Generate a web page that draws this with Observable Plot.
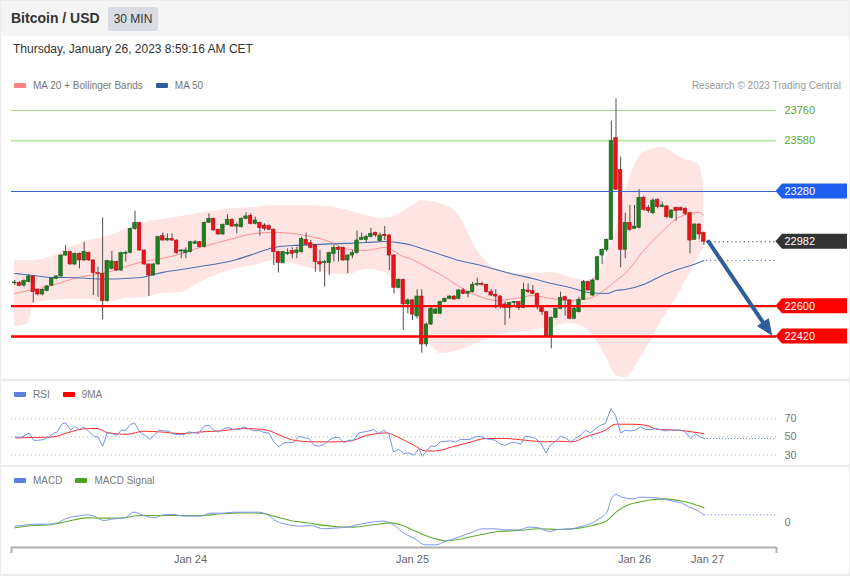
<!DOCTYPE html>
<html><head><meta charset="utf-8">
<script src="https://cdn.jsdelivr.net/npm/d3@7"></script>
<script src="https://cdn.jsdelivr.net/npm/@observablehq/plot@0.6"></script>
<style>
html,body{margin:0;padding:0;background:#fff;}
#root{position:relative;width:850px;height:576px;background:#ebebeb;overflow:hidden;font-family:"Liberation Sans",Arial,Helvetica,sans-serif;}
.panel{position:absolute;left:1px;width:848px;background:#fff;}
.abs{position:absolute;white-space:nowrap;}
.plot{position:absolute;left:0;}
.leg{position:absolute;font-size:10px;color:#777;white-space:nowrap;line-height:12px;}
.sw{display:inline-block;width:12px;height:5px;border-radius:1px;margin-right:7px;position:relative;top:-1px;}
.gap{display:inline-block;width:13px;}
</style></head>
<body><div id="root">
<div class="panel" style="top:1px;height:35px;background:#f5f5f5"></div>
<div class="abs" style="left:11px;top:10px;font-size:14px;font-weight:bold;color:#333">Bitcoin / USD</div>
<div class="abs" style="left:108px;top:7px;width:50px;height:24px;background:#d9dde3;border-radius:2px;font-size:12px;color:#333;line-height:24px;text-align:center">30 MIN</div>
<div class="panel" style="top:36px;height:343px"></div>
<div class="panel" style="top:381px;height:84px"></div>
<div class="panel" style="top:467px;height:107px"></div>
<div class="abs" style="left:13px;top:42px;font-size:12px;color:#333">Thursday, January 26, 2023 8:59:16 AM CET</div>
<div class="leg" style="left:14px;top:80px"><span class="sw" style="background:#ff8080"></span>MA 20 + Bollinger Bands<span class="gap"></span><span class="sw" style="background:#2f5d9f"></span>MA 50</div>
<div class="leg" style="right:9px;top:80px;color:#999">Research © 2023 Trading Central</div>
<div class="leg" style="left:14px;top:389px"><span class="sw" style="background:#5b7fe0"></span>RSI<span class="gap"></span><span class="sw" style="background:#ff0000"></span>9MA</div>
<div class="leg" style="left:14px;top:475px"><span class="sw" style="background:#5b7fe0"></span>MACD<span class="gap"></span><span class="sw" style="background:#4ca41b"></span>MACD Signal</div>
<div id="pMain" class="plot" style="top:36px"></div>
<div id="pRsi" class="plot" style="top:381px"></div>
<div id="pMacd" class="plot" style="top:467px"></div>
</div>
<script>
// ---------- DATA (30-min candles, index 0 = Jan 23 05:00 CET) ----------
const opens = [22735,22738,22722,22742,22776,22697,22669,22689,22722,22762,
22776,22900,22920,22847,22910,22871,22914,22871,22796,22792,
22630,22821,22861,22811,22910,22916,23058,23092,22930,22847,
22782,22847,23015,22989,22999,22989,22924,22914,22920,22970,
22979,22950,23094,23118,23053,23025,23082,23112,23072,23068,
23118,23136,23088,23094,23078,23074,23053,22920,22855,22910,
22926,22914,22920,22993,22973,22960,22861,22855,22855,22910,
22946,22946,22871,22900,22914,22993,22993,23009,23033,22985,
23023,23019,22900,22709,22756,22610,22634,22539,22657,22373,
22491,22555,22555,22624,22643,22657,22643,22693,22673,22683,
22726,22732,22726,22683,22667,22657,22610,22590,22618,22624,
22590,22693,22689,22673,22594,22564,22420,22531,22584,22653,
22634,22525,22564,22638,22742,22663,22756,22900,22934,22993,
23596,23408,22934,23092,23058,23064,23242,23183,23151,23230,
23187,23191,23124,23183,23181,23177,23151,22993,23084,23033];
const highs = [22752,22745,22756,22788,22780,22700,22702,22722,22770,22780,
22905,22960,22925,22915,22915,22979,22920,22875,22831,23124,
22872,22924,22866,22920,22926,23063,23163,23097,22932,22850,
22852,23014,23033,23029,23029,22993,22935,22946,22984,22989,
22984,23099,23147,23122,23056,23087,23143,23117,23094,23124,
23153,23147,23128,23099,23088,23082,23058,22925,22925,22940,
22946,22950,23009,23033,22989,22965,22930,22871,22920,22960,
22954,22950,22905,22930,23045,23033,23019,23062,23039,23033,
23072,23023,22905,22762,22760,22643,22638,22697,22697,22499,
22594,22585,22629,22648,22662,22662,22698,22703,22688,22742,
22766,22742,22730,22697,22697,22662,22624,22622,22628,22628,
22736,22732,22722,22678,22598,22568,22536,22589,22683,22658,
22639,22594,22653,22752,22747,22762,22895,22939,22998,23697,
23829,23483,23151,23197,23197,23290,23250,23197,23236,23236,
23217,23197,23171,23187,23187,23183,23157,23088,23088,23039];
const lows = [22722,22715,22713,22738,22618,22660,22662,22685,22718,22758,
22770,22895,22842,22840,22821,22865,22865,22663,22653,22519,
22625,22815,22805,22805,22861,22910,23050,22925,22842,22657,
22777,22842,22985,22985,22984,22908,22881,22881,22915,22965,
22945,22945,23090,23044,23020,23020,23078,23068,23029,23063,
23112,23082,23082,23015,23045,23048,22841,22796,22850,22900,
22881,22881,22915,22960,22940,22801,22801,22713,22782,22861,
22861,22866,22792,22881,22908,22989,22973,23005,23009,22979,
22989,22811,22673,22703,22456,22554,22515,22525,22321,22357,
22485,22550,22550,22620,22638,22635,22638,22668,22649,22678,
22717,22720,22678,22658,22584,22584,22485,22525,22594,22574,
22585,22673,22668,22578,22545,22415,22347,22525,22580,22540,
22520,22520,22560,22633,22688,22657,22750,22847,22920,22989,
23286,22827,22881,23045,23058,23058,23163,23151,23143,23177,
23183,23118,23118,23104,23163,23137,22910,22989,22993,22960];
const closes = [22740,22720,22748,22776,22683,22669,22697,22717,22762,22776,
22900,22920,22847,22910,22871,22920,22871,22796,22792,22630,
22867,22865,22811,22914,22916,23058,23092,22930,22847,22782,
22847,23009,22989,22999,22989,22914,22930,22930,22979,22979,
22950,23094,23118,23049,23025,23082,23112,23072,23082,23118,
23132,23088,23108,23064,23058,23053,22920,22855,22920,22916,
22910,22930,22999,22965,22946,22861,22847,22861,22914,22946,
22934,22871,22900,22914,22989,23003,23009,23029,23019,23019,
23015,22900,22709,22756,22610,22634,22550,22657,22373,22491,
22584,22580,22624,22643,22657,22639,22693,22673,22683,22726,
22732,22726,22683,22663,22657,22604,22590,22618,22624,22590,
22697,22683,22673,22594,22564,22420,22531,22584,22649,22634,
22525,22584,22638,22742,22693,22752,22890,22934,22993,23578,
23290,22934,23092,23052,23072,23242,23171,23163,23226,23187,
23197,23128,23167,23163,23167,23147,22989,23084,23025,22982];

// Bollinger bands / moving averages, sampled at these candle indices
const bandIdx = [0,2,3,4,8,12,16,20,24,28,32,36,40,44,48,52,56,60,64,68,72,76,80,84,86,88,90,92,96,100,104,108,112,116,120,124,128,130,132,136,140,144,148,149];
const bandUpper = [22871,22871,22871,22871,22894,22948,22989,23013,23055,23096,23114,23132,23149,23167,23179,23185,23197,23197,23197,23191,23167,23138,23120,23161,23197,23226,23221,23209,23140,22930,22823,22794,22794,22800,22770,22752,22900,23060,23274,23511,23541,23481,23434,23315];
const bandLower = [22479,22485,22500,22616,22634,22639,22639,22622,22645,22651,22675,22681,22740,22788,22823,22841,22871,22853,22823,22794,22788,22817,22800,22651,22604,22456,22367,22319,22337,22379,22426,22444,22456,22473,22497,22456,22290,22189,22177,22325,22515,22693,22900,22948];
const ma20 = [22675,22687,22693,22699,22722,22758,22782,22800,22835,22865,22883,22912,22948,22977,23007,23031,23037,23031,23013,22983,22936,22930,22948,22894,22877,22847,22817,22788,22717,22663,22634,22645,22663,22645,22634,22645,22705,22752,22794,22930,23043,23132,23155,23138];
const ma50 = [22794,22788,22785,22782,22770,22770,22764,22761,22764,22773,22800,22817,22835,22853,22877,22912,22948,22960,22963,22969,22972,22977,22983,22972,22960,22942,22924,22906,22871,22847,22817,22788,22764,22734,22711,22681,22675,22693,22699,22728,22782,22823,22859,22871];

// price levels
const resistance = [23760, 23580, 23280];
const support = [22600, 22420];
const lastPrice = 22982;
const arrowTarget = 22430;

// RSI (14) and its 9-period MA : [candle index, value]
const rsi = [[0.2,50.0],[1.2,49.3],[2.3,51.8],[3.1,54.4],[4.1,46.3],[5.2,46.3],[6.3,47.1],[7.4,50.0],[8.5,54.4],[9.2,55.5],[10.3,64.7],[11.0,65.5],[12.1,57.4],[12.9,61.8],[14.0,58.1],[14.9,61.0],[15.8,57.4],[17.1,50.7],[18.0,50.0],[19.0,39.7],[20.0,54.4],[21.1,53.7],[22.1,51.8],[23.0,57.4],[24.0,57.4],[25.0,63.6],[25.9,65.5],[27.0,55.5],[28.1,51.8],[29.2,47.4],[30.2,51.8],[31.2,57.4],[32.2,56.6],[33.3,56.3],[34.4,52.9],[35.5,52.6],[36.6,52.6],[37.6,55.5],[38.7,54.8],[39.8,53.7],[40.9,61.8],[42.0,62.9],[43.0,57.4],[44.1,55.5],[45.2,59.2],[46.3,60.3],[47.4,58.1],[48.5,58.1],[49.5,61.0],[50.6,59.2],[51.7,56.6],[52.8,57.4],[53.9,54.8],[54.9,54.4],[56.0,44.5],[57.1,39.0],[58.2,43.4],[59.2,43.7],[60.3,43.7],[61.4,50.7],[62.5,49.3],[63.6,48.2],[64.7,40.8],[65.7,39.7],[66.8,41.5],[67.9,46.3],[69.0,49.3],[70.1,49.3],[71.2,43.7],[72.2,46.3],[73.3,46.3],[74.4,54.4],[75.5,55.5],[76.6,56.6],[77.6,58.1],[78.7,53.7],[79.8,57.4],[80.9,52.9],[81.9,33.4],[83.0,36.4],[84.1,31.6],[85.2,32.3],[86.3,29.7],[87.4,37.1],[88.1,28.6],[89.9,39.7],[91.0,39.7],[92.0,44.5],[93.1,45.2],[94.2,45.6],[95.3,44.5],[96.4,47.4],[97.5,47.1],[98.5,47.4],[99.6,50.0],[100.7,50.7],[101.8,48.2],[102.9,47.1],[103.9,46.3],[105.0,41.9],[106.1,40.8],[107.2,43.7],[108.3,43.7],[109.4,41.9],[110.4,50.7],[111.5,50.0],[112.6,48.2],[113.7,43.4],[114.9,32.3],[115.8,40.8],[116.9,45.2],[118.0,50.7],[119.1,48.9],[120.2,44.5],[121.2,48.2],[122.3,51.8],[123.4,57.4],[124.5,54.4],[125.6,59.2],[126.7,62.9],[127.7,64.7],[128.9,81.3],[129.9,73.9],[131.0,54.4],[132.0,57.4],[133.1,56.6],[134.2,57.4],[135.3,61.0],[136.4,58.1],[137.5,58.1],[138.6,59.2],[139.6,58.1],[140.7,56.6],[141.8,58.1],[142.9,57.4],[144.0,57.4],[145.0,55.5],[146.1,48.2],[147.2,52.9],[147.9,50.7],[149.0,48.2]];
const rsiMa = [[0.2,48.9],[4.1,49.3],[8.4,50.0],[11.3,54.4],[15.7,59.2],[17.8,59.2],[20.0,54.8],[24.3,52.9],[27.9,56.3],[31.5,55.5],[35.8,53.7],[40.2,55.5],[44.5,56.6],[49.5,59.2],[53.1,58.5],[54.6,57.4],[58.2,50.0],[60.3,46.3],[64.7,44.5],[69.0,44.5],[72.6,45.6],[76.2,51.8],[80.5,54.4],[82.0,51.8],[84.9,44.5],[86.3,40.8],[88.8,34.5],[91.0,34.5],[94.6,39.0],[98.2,43.7],[101.8,48.2],[106.1,48.2],[110.4,46.3],[114.8,44.5],[117.6,45.2],[120.5,44.5],[123.4,50.0],[127.7,57.4],[129.9,64.0],[133.5,64.0],[136.4,62.9],[139.2,58.1],[143.6,57.4],[146.5,55.5],[149.0,53.7]];
const rsiLevels = [70, 50, 30];

// MACD and signal : [candle index, value]
const macd = [[0,-15.8],[2.7,-10.5],[4.1,-7.8],[7.7,-7.8],[9.2,-2.5],[11.3,16.2],[13.5,24.2],[15.7,29.5],[17.1,24.2],[19.3,6.9],[21.4,13.5],[23.6,16.2],[25.8,40.2],[27.9,26.8],[30.1,17.5],[32.2,29.5],[34.4,30.9],[36.6,24.2],[40.2,24.2],[42.3,36.2],[45.2,36.2],[47.4,40.2],[50.3,40.2],[52.4,40.2],[54.6,30.9],[56.7,2.9],[58.9,-9.1],[61.8,-15.8],[63.9,-13.1],[66.8,-26.5],[69.0,-23.8],[71.9,-19.8],[74.0,-10.5],[76.2,-2.5],[79.8,4.2],[81.9,-10.5],[84.1,-43.8],[86.3,-63.8],[88.8,-90.5],[91.0,-90.5],[93.1,-77.1],[96.0,-59.8],[98.9,-39.8],[101.1,-26.5],[103.9,-26.5],[106.1,-30.5],[109.0,-30.5],[111.2,-19.8],[113.3,-22.5],[115.5,-37.1],[117.6,-29.1],[120.5,-26.5],[122.7,-15.8],[124.9,-2.5],[126.3,13.5],[128.1,42.8],[129.0,93.5],[130.0,110.8],[131.3,100.2],[133.9,93.5],[135.0,100.2],[137.8,98.8],[140.0,93.5],[142.2,84.2],[144.3,76.2],[145.8,60.2],[147.2,50.8],[149.0,29.5]];
const macdSignal = [[0,-22.5],[4.1,-13.1],[7.7,-10.5],[11.3,2.9],[15.7,17.5],[18.5,16.2],[22.9,16.2],[27.2,26.8],[31.5,26.8],[35.8,26.8],[40.2,26.8],[44.5,33.5],[48.8,37.5],[53.1,36.2],[56.0,24.2],[59.6,6.9],[63.2,-2.5],[69.0,-17.1],[73.3,-19.8],[77.6,-10.5],[81.2,-2.5],[83.4,-10.5],[86.3,-33.1],[88.8,-53.1],[91.0,-66.5],[93.1,-74.5],[96.0,-69.1],[98.9,-57.1],[101.8,-46.5],[104.6,-37.1],[109.0,-33.1],[113.3,-26.5],[117.6,-29.1],[122.0,-23.8],[124.9,-13.1],[128.1,6.9],[130.0,40.2],[132.0,64.2],[135.0,80.2],[137.8,89.5],[140.7,93.5],[143.6,86.8],[145.8,77.5],[149.0,57.5]];
const macdZero = [0];

// x axis ticks (candle index) and their labels
const tickIdx = [38, 86, 134, 149.8];
const tickLabels = ["Jan 24", "Jan 25", "Jan 26", "Jan 27"];

// ---------- LAYOUT ----------
const W = 850, firstPx = 14.25, pitch = 4.625;
const nAt = px => (px - firstPx) / pitch;
const xDomain = [nAt(0), nAt(W)];
const xL = nAt(11), xR = nAt(776), xDot = nAt(706), xTagTip = nAt(775.5), xTagBody = nAt(782), xTagEnd = nAt(847), xLab = nAt(784);
const pxPerUsd = (336 - 110) / (23760 - 22420);
const priceAt = y => 23760 - (y - 110) / pxPerUsd;
const yOfPrice = p => 110 + (23760 - p) * pxPerUsd;
const rsiAt = y => 50 + (436.4 - y) / 0.905;
const macdAt = y => (521.7 - y) * 4;
const font = '"Liberation Sans", Arial, sans-serif';

const candles = opens.map((o, i) => ({i, o, h: highs[i], l: lows[i], c: closes[i]}));
const band = bandIdx.map((i, k) => ({i, up: bandUpper[k], lo: bandLower[k], m20: ma20[k], m50: ma50[k]}));
const GREEN = "#1f7f1f", RED = "#e8141c";
const tagPrices = [resistance[2], lastPrice, support[0], support[1]];
const tagColors = ["#1f5ff0", "#333333", "#ff0000", "#ff0000"];
const hh = 7.5 / pxPerUsd;

// arrow geometry (start at last price, tip at target), built in pixel space then mapped back
const aSx = 708, aSy = yOfPrice(lastPrice), aTx = 771, aTy = yOfPrice(arrowTarget);
const aLen = Math.hypot(aTx - aSx, aTy - aSy), dX = (aTx - aSx) / aLen, dY = (aTy - aSy) / aLen;
const headL = 15, headW = 6.5;
const bX = aTx - headL * dX, bY = aTy - headL * dY;
const arrowShaft = [{x: nAt(aSx), y: lastPrice}, {x: nAt(bX + 2 * dX), y: priceAt(bY + 2 * dY)}];
const arrowHead = [
  {x: nAt(aTx), y: priceAt(aTy)},
  {x: nAt(bX - headW * dY), y: priceAt(bY + headW * dX)},
  {x: nAt(bX + headW * dY), y: priceAt(bY - headW * dX)},
  {x: nAt(aTx), y: priceAt(aTy)}
];

const mainPlot = Plot.plot({
  width: W, height: 343, margin: 0,
  x: {domain: xDomain, axis: null},
  y: {domain: [priceAt(379), priceAt(36)], axis: null},
  color: {type: "identity"},
  style: {background: "transparent", overflow: "visible", fontFamily: font},
  marks: [
    Plot.areaY(band, {x: "i", y1: "lo", y2: "up", fill: "#ffe4e4", curve: "monotone-x"}),
    Plot.line(band, {x: "i", y: "m20", stroke: "#ff8e8e", strokeWidth: 1, curve: "monotone-x"}),
    Plot.line(band, {x: "i", y: "m50", stroke: "#4a70b4", strokeWidth: 1.1, curve: "monotone-x"}),
    Plot.ruleY([resistance[0]], {x1: xL, x2: xR, stroke: "#a6d88c", strokeWidth: 1}),
    Plot.ruleY([resistance[1]], {x1: xL, x2: xR, stroke: "#c3e5ae", strokeWidth: 2}),
    Plot.ruleX(candles, {x: "i", y1: "l", y2: "h", stroke: "#4d4d4d", strokeWidth: 1}),
    Plot.rect(candles, {x1: d => d.i - 0.38, x2: d => d.i + 0.38, y1: "o", y2: "c",
      fill: d => d.c >= d.o ? GREEN : RED, stroke: d => d.c >= d.o ? "#175e17" : "#b40e14", strokeWidth: 0.6}),
    Plot.ruleY([resistance[2]], {x1: xL, x2: xR, stroke: "#3560c8", strokeWidth: 1}),
    Plot.ruleY(support, {x1: xL, x2: xR, stroke: "#ff0000", strokeWidth: 2.4}),
    Plot.ruleY([lastPrice], {x1: xDot, x2: xR, stroke: "#444", strokeWidth: 1, strokeDasharray: "1.2,3"}),
    Plot.ruleY([ma50[ma50.length - 1]], {x1: xDot, x2: xR, stroke: "#4a70b4", strokeWidth: 1, strokeDasharray: "1.2,3"}),
    ...tagPrices.map((p, k) => Plot.areaY(
      [{x: xTagTip, a: p, b: p}, {x: xTagBody, a: p - hh, b: p + hh}, {x: xTagEnd, a: p - hh, b: p + hh}],
      {x: "x", y1: "a", y2: "b", fill: tagColors[k]})),
    Plot.text(tagPrices, {x: xLab, y: d => d, text: d => String(d), fill: "white", fontSize: 11, textAnchor: "start"}),
    Plot.text(resistance.slice(0, 2), {x: xLab, y: d => d, text: d => String(d), fill: "#5aa82a", fontSize: 11, textAnchor: "start"}),
    Plot.line(arrowShaft, {x: "x", y: "y", stroke: "#2f5d9c", strokeWidth: 4}),
    Plot.line(arrowHead, {x: "x", y: "y", stroke: "#2f5d9c", strokeWidth: 1, fill: "#2f5d9c", strokeLinejoin: "miter"})
  ]
});
document.getElementById("pMain").appendChild(mainPlot);

const rsiPlot = Plot.plot({
  width: W, height: 84, margin: 0,
  x: {domain: xDomain, axis: null},
  y: {domain: [rsiAt(465), rsiAt(381)], axis: null},
  style: {background: "transparent", overflow: "visible", fontFamily: font},
  marks: [
    Plot.ruleY(rsiLevels, {x1: xL, x2: xR, stroke: "#b8b8b8", strokeWidth: 1, strokeDasharray: "1,3"}),
    Plot.line(rsiMa, {x: d => d[0], y: d => d[1], stroke: "#ff2a2a", strokeWidth: 1, curve: "monotone-x"}),
    Plot.line(rsi, {x: d => d[0], y: d => d[1], stroke: "#7491e8", strokeWidth: 1}),
    Plot.ruleY([rsi[rsi.length - 1][1]], {x1: nAt(704), x2: xR, stroke: "#7491e8", strokeWidth: 1, strokeDasharray: "1,2"}),
    Plot.text(rsiLevels, {x: xLab, y: d => d, text: d => String(d), fill: "#777", fontSize: 11, textAnchor: "start"})
  ]
});
document.getElementById("pRsi").appendChild(rsiPlot);

const tickMap = new Map(tickIdx.map((t, k) => [t, tickLabels[k]]));
const macdDom = [macdAt(547), macdAt(467)];
const macdPlot = Plot.plot({
  width: W, height: 107, marginTop: 0, marginLeft: 0, marginRight: 0, marginBottom: 27,
  x: {domain: xDomain, ticks: tickIdx, tickFormat: d => tickMap.get(d), tickSize: 0, tickPadding: 8, label: null},
  y: {domain: macdDom, axis: null},
  style: {background: "transparent", overflow: "visible", fontFamily: font, fontSize: "11px", color: "#666"},
  marks: [
    Plot.line(macdSignal, {x: d => d[0], y: d => d[1], stroke: "#62ad32", strokeWidth: 1.1, curve: "monotone-x"}),
    Plot.line(macd, {x: d => d[0], y: d => d[1], stroke: "#7b97ea", strokeWidth: 1, curve: "monotone-x"}),
    Plot.ruleY([macd[macd.length - 1][1]], {x1: nAt(704), x2: xR, stroke: "#5b7fe0", strokeWidth: 1, strokeDasharray: "1,2.5"}),
    Plot.text(macdZero, {x: xLab, y: d => d, text: d => String(d), fill: "#777", fontSize: 11, textAnchor: "start"}),
    Plot.ruleY([macdDom[0]], {x1: xL, x2: xR, stroke: "#b0b0b0", strokeWidth: 2}),
    Plot.ruleX([xL, xR], {y1: macdDom[0], y2: macdAt(553), stroke: "#b0b0b0", strokeWidth: 2})
  ]
});
document.getElementById("pMacd").appendChild(macdPlot);
</script>
</body></html>
